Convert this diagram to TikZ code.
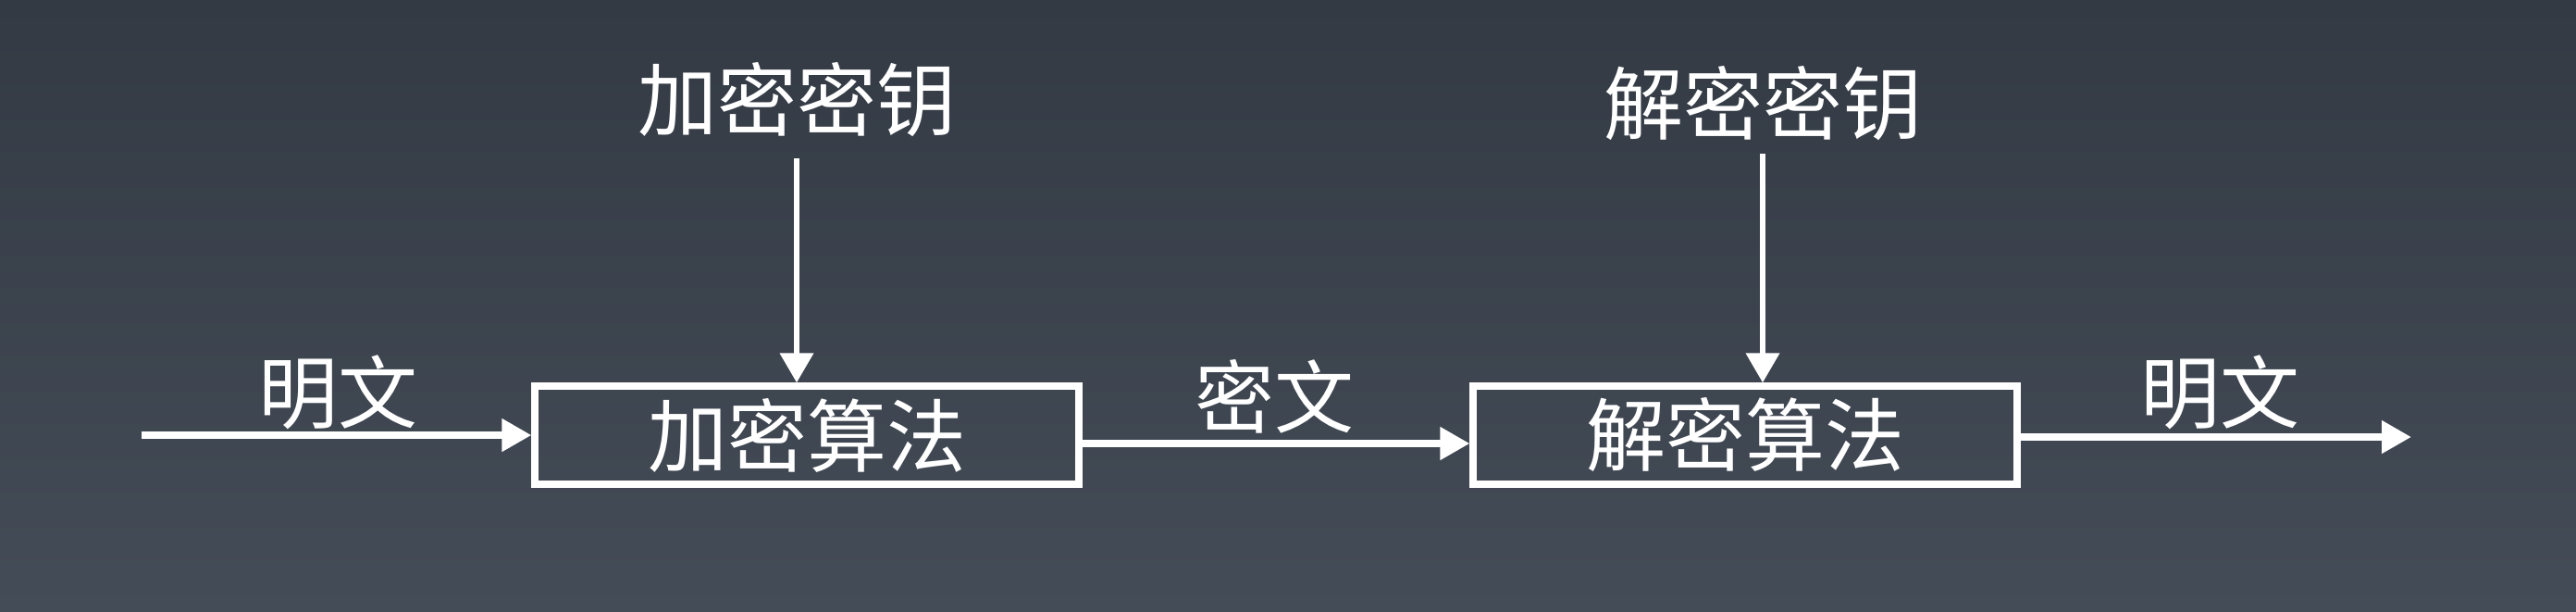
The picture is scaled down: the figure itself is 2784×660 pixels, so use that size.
\documentclass[tikz,border=0pt]{standalone}
\usepackage{fontspec}
\newfontfamily\cjk{Noto Sans CJK SC}
\usetikzlibrary{arrows.meta}
\usetikzlibrary{calc}
\definecolor{bgtop}{HTML}{333A44}
\definecolor{bgbottom}{HTML}{444C57}

\begin{document}
\begin{tikzpicture}[x=0.5pt,y=-0.5pt,
        algo/.style={rectangle, draw=white, line width=3.6pt,
            minimum width=294pt, minimum height=53pt, inner sep=0pt,
            text=white, font=\cjk\fontsize{43pt}{50pt}\selectfont},
        lbl/.style={text=white, inner sep=0pt,
            font=\cjk\fontsize{43pt}{50pt}\selectfont},
        flow/.style={draw=white, line width=3.8pt, -{Triangle[length=16pt,width=17pt]}},
        keyflow/.style={draw=white, line width=3.4pt, -{Triangle[length=16pt,width=17.5pt]}}]

        \useasboundingbox (0,0) rectangle (2784,660);
        \fill[top color=bgtop, bottom color=bgbottom] (0,0) rectangle (2784,660);

        \node[algo] (b1) at (872,470) {加密算法};
        \node[algo] (b2) at (1886,470) {解密算法};

        \node[lbl] (k1) at (861,108) {加密密钥};
        \node[lbl] (k2) at (1905,112) {解密密钥};

        \node[lbl] (l1) at (365,424) {明文};
        \node[lbl] (l2) at (1377,428) {密文};
        \node[lbl] (l3) at (2399,424) {明文};

        \coordinate (src) at (153,470);
        \coordinate (dst) at (2606,472);

        \draw[flow] (src) -- (src -| b1.west);
        \draw[flow] ($(b1.east)+(0,9)$) -- ($(b2.west)+(0,9)$);
        \draw[flow] (b2.east |- dst) -- (dst);

        \draw[keyflow] ($(k1)+(0,63)$) -- (k1 |- b1.north);
        \draw[keyflow] ($(k2)+(0,54)$) -- (k2 |- b2.north);
    \end{tikzpicture}
\end{document}
